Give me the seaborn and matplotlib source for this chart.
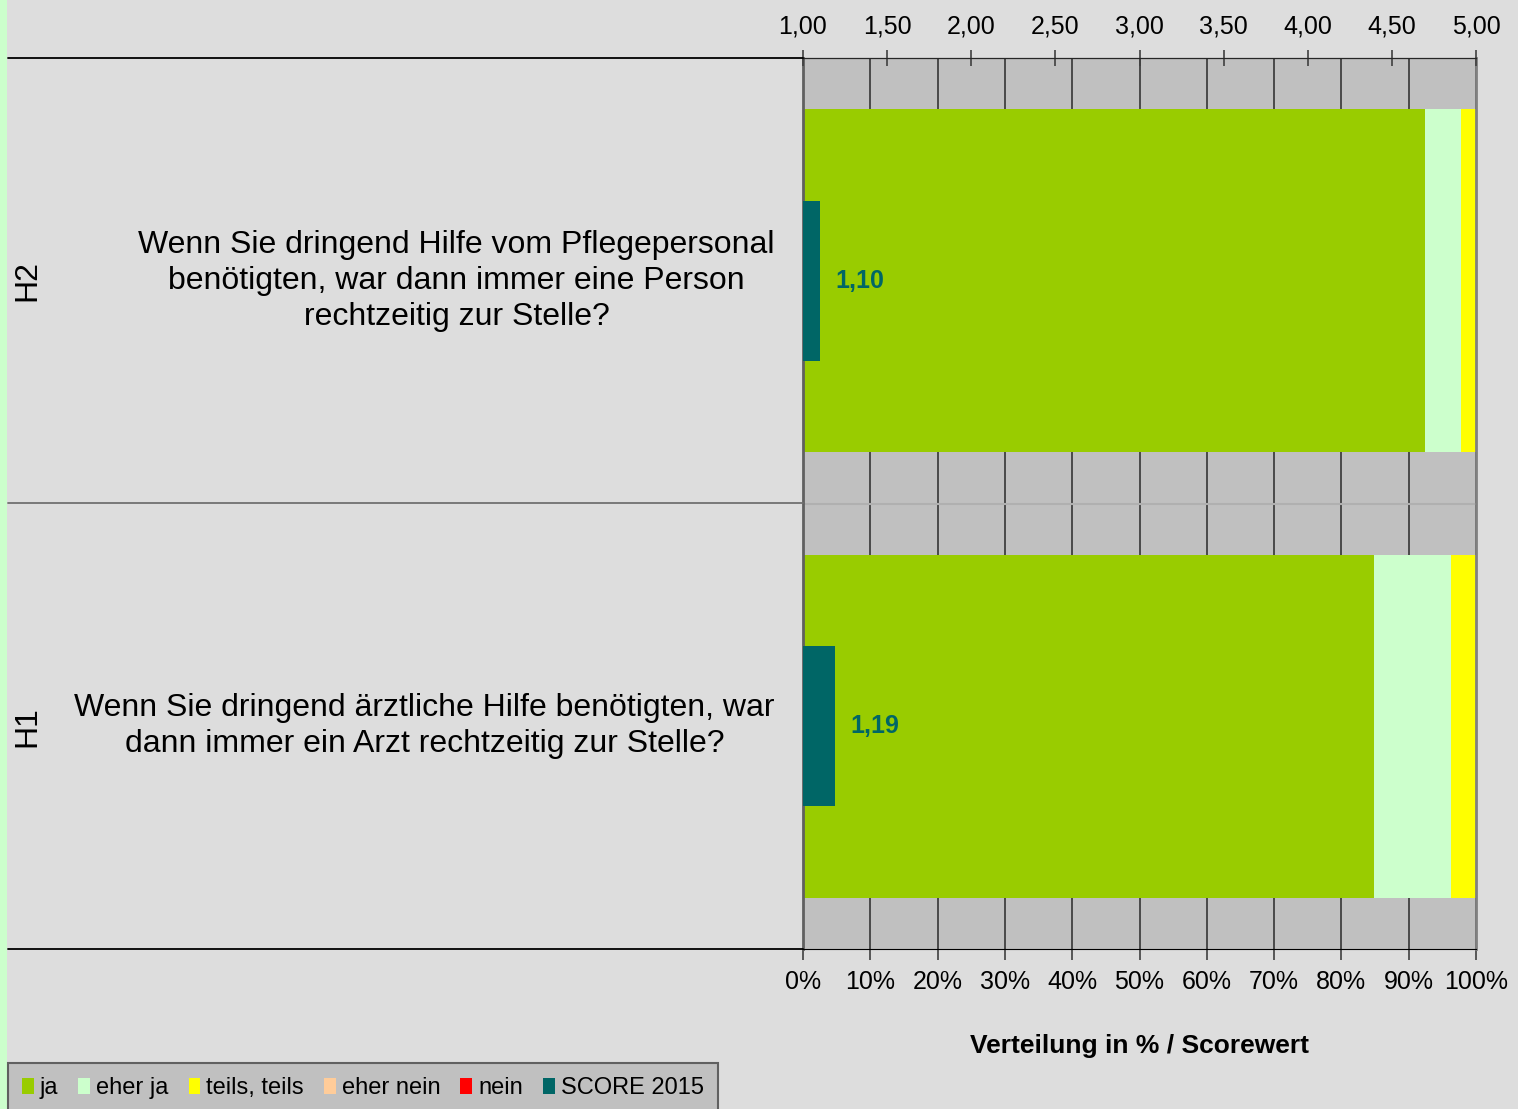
import pandas as pd
import seaborn as sns
import matplotlib.pyplot as plt
from matplotlib.lines import Line2D
from matplotlib.patches import Rectangle, Patch

# Data
codes = ["H2", "H1"]
questions = [
    "Wenn Sie dringend Hilfe vom Pflegepersonal\nbenötigten, war dann immer eine Person\nrechtzeitig zur Stelle?",
    "Wenn Sie dringend ärztliche Hilfe benötigten, war\ndann immer ein Arzt rechtzeitig zur Stelle?",
]
ja = [92.4, 84.8]
eher_ja = [5.4, 11.5]
teils = [2.2, 3.7]
eher_nein = [0.0, 0.0]
nein = [0.0, 0.0]
score = [1.10, 1.19]

categories = ["ja", "eher ja", "teils, teils", "eher nein", "nein"]
colors = ["#99CC00", "#CCFFCC", "#FFFF00", "#FFCC99", "#FF0000"]
score_color = "#006666"

df = pd.DataFrame({"code": codes, "ja": ja, "eher ja": eher_ja,
                   "teils, teils": teils, "eher nein": eher_nein, "nein": nein})
cum = df[categories].cumsum(axis=1)
cum["code"] = df["code"]

sns.set_style("white")
plt.rcParams["font.family"] = ["Liberation Sans", "DejaVu Sans"]
plt.rcParams["text.color"] = "black"
plt.rcParams["axes.labelcolor"] = "black"
plt.rcParams["xtick.labelcolor"] = "black"

W, H = 1518, 1109
fig = plt.figure(figsize=(W / 100, H / 100), dpi=100, facecolor="#DDDDDD")
ax = fig.add_axes([803 / W, 1 - 949 / H, 673 / W, 891 / H])
ax.set_facecolor("#C0C0C0")

# stacked bars: draw cumulative totals from the back
for cat, col in reversed(list(zip(categories, colors))):
    sns.barplot(data=cum, x=cat, y="code", order=codes, color=col,
                saturation=1, width=0.77, orient="h", ax=ax, zorder=2,
                linewidth=0, edgecolor="none")

ax.set_xlim(0, 100)
ax.set_ylim(1.5, -0.5)
ax.set_xticks(range(0, 101, 10))
ax.set_xticklabels([f"{v}%" for v in range(0, 101, 10)], fontsize=18)
ax.set_yticks([0.5])
ax.set_yticklabels([""])
ax.tick_params(axis="y", direction="out", length=10, width=1.5, color="black")
ax.tick_params(axis="x", direction="out", length=8, width=1.2, color="#404040",
               pad=7, labelcolor="black")
ax.set_ylabel("")
ax.set_xlabel("Verteilung in % / Scorewert", fontsize=19, fontweight="bold",
              labelpad=29, color="black")
ax.set_axisbelow(True)
ax.grid(axis="x", color="#404040", linewidth=1.3)
ax.axhline(0.5, color="#B0B0B0", linewidth=1.5, zorder=1)
ax.spines["left"].set_color("#606060")
ax.spines["left"].set_linewidth(2)
ax.spines["right"].set_color("#808080")
ax.spines["right"].set_linewidth(2)
ax.spines["top"].set_color("black")
ax.spines["bottom"].set_color("black")

# score bars on top axis
ax2 = ax.twiny()
bars = ax2.barh(range(len(codes)), [s - 1 for s in score], left=1, height=0.36,
                color=score_color, edgecolor="none", linewidth=0, zorder=3)
ax2.bar_label(bars, labels=[f"{s:.2f}".replace(".", ",") for s in score],
              padding=11, color=score_color, fontsize=18, fontweight="bold")
ax2.set_xlim(1, 5)
ticks = [1 + 0.5 * i for i in range(9)]
ax2.set_xticks(ticks)
ax2.set_xticklabels([f"{t:.2f}".replace(".", ",") for t in ticks], fontsize=18)
ax2.tick_params(axis="x", direction="inout", length=12, width=1.2, color="#404040",
                pad=8, labelcolor="black")
for s in ["left", "right", "bottom"]:
    ax2.spines[s].set_visible(False)
ax.set_ylim(1.5, -0.5)

# question texts and codes
for i, (c, q) in enumerate(zip(codes, questions)):
    ax.text((775 - 803) / 673, i, q, transform=ax.get_yaxis_transform(),
            ha="right", va="center", multialignment="center", fontsize=23,
            linespacing=1.25, color="black")
    ax.text((27 - 803) / 673, i, c, transform=ax.get_yaxis_transform(),
            ha="center", va="center", rotation=90, fontsize=23, color="black")

# row separator lines to the left of the plot
for y, col in [(58, "black"), (503, "#707070"), (949, "black")]:
    fig.add_artist(Line2D([8 / W, 803 / W], [1 - y / H, 1 - y / H],
                          transform=fig.transFigure, color=col, linewidth=1.3))
fig.add_artist(Rectangle((0, 0), 7 / W, 1, transform=fig.transFigure,
                         facecolor="#CCFFCC", edgecolor="none"))

# legend
handles = [Patch(facecolor=c, edgecolor="none") for c in colors]
handles.append(Patch(facecolor=score_color, edgecolor="none"))
leg = fig.legend(handles, categories + ["SCORE 2015"], loc="upper left",
                 bbox_to_anchor=(8 / W, 1 - 1063 / H), ncol=6, fontsize=17,
                 handlelength=0.5, handleheight=0.65, handletextpad=0.25,
                 columnspacing=0.85, borderpad=0.6, borderaxespad=0,
                 fancybox=False, frameon=True, framealpha=1)
leg.get_frame().set_facecolor("#C0C0C0")
leg.get_frame().set_edgecolor("#606060")
leg.get_frame().set_linewidth(1.5)

fig.savefig("out.png", dpi=100, facecolor=fig.get_facecolor())
